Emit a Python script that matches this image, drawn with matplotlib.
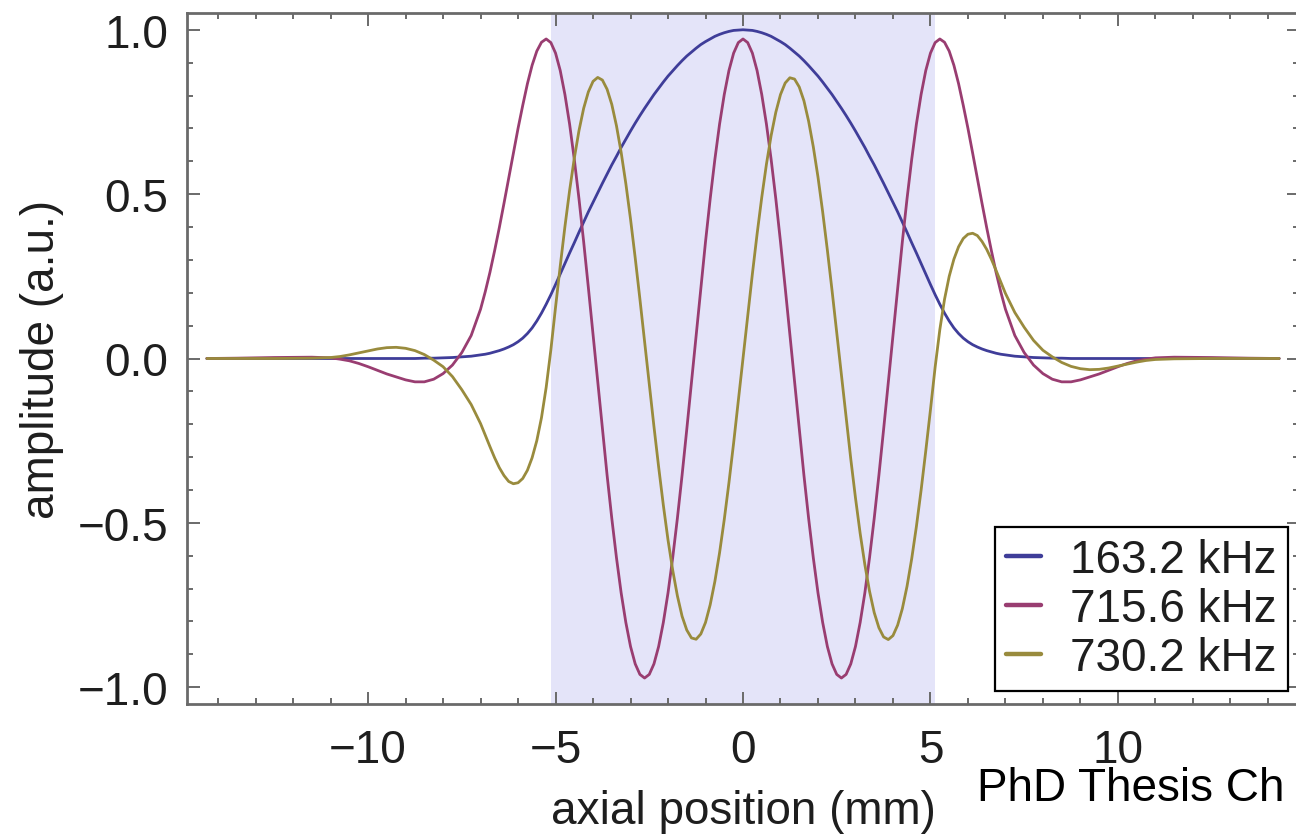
import matplotlib
matplotlib.use("Agg")
import matplotlib.pyplot as plt
from matplotlib.ticker import MultipleLocator

plt.rcParams['font.family'] = ['Liberation Sans', 'DejaVu Sans']

# Axial sample positions (mm)
x_mm = [
    -14.3, -13.5, -12.5, -11.5,
    -11.0, -10.75, -10.5, -10.25, -10.0, -9.75, -9.5, -9.25,
    -9.0, -8.75, -8.5, -8.25, -8.0, -7.75, -7.5, -7.25,
    -7.0, -6.875, -6.75, -6.625, -6.5, -6.375, -6.25, -6.125,
    -6.0, -5.875, -5.75, -5.625, -5.5, -5.375, -5.25, -5.125,
    -5.0, -4.875, -4.75, -4.625, -4.5, -4.375, -4.25, -4.125,
    -4.0, -3.875, -3.75, -3.625, -3.5, -3.375, -3.25, -3.125,
    -3.0, -2.875, -2.75, -2.625, -2.5, -2.375, -2.25, -2.125,
    -2.0, -1.875, -1.75, -1.625, -1.5, -1.375, -1.25, -1.125,
    -1.0, -0.875, -0.75, -0.625, -0.5, -0.375, -0.25, -0.125,
    0.0,
    0.125, 0.25, 0.375, 0.5, 0.625, 0.75, 0.875, 1.0,
    1.125, 1.25, 1.375, 1.5, 1.625, 1.75, 1.875, 2.0,
    2.125, 2.25, 2.375, 2.5, 2.625, 2.75, 2.875, 3.0,
    3.125, 3.25, 3.375, 3.5, 3.625, 3.75, 3.875, 4.0,
    4.125, 4.25, 4.375, 4.5, 4.625, 4.75, 4.875, 5.0,
    5.125, 5.25, 5.375, 5.5, 5.625, 5.75, 5.875, 6.0,
    6.125, 6.25, 6.375, 6.5, 6.625, 6.75, 6.875, 7.0,
    7.25, 7.5, 7.75, 8.0, 8.25, 8.5, 8.75, 9.0,
    9.25, 9.5, 9.75, 10.0, 10.25, 10.5, 10.75, 11.0,
    11.5, 12.5, 13.5, 14.3,
]

# Mode amplitude at 163.2 kHz
amp_163 = [
    0.0, 0.0, 0.0, 0.0,
    0.0, 0.0, 0.0, 0.0, 0.0, 0.0, 0.0, 0.0,
    0.0, 0.0, 0.001, 0.001, 0.002, 0.003, 0.005, 0.007,
    0.011, 0.013, 0.016, 0.020, 0.024, 0.029, 0.035, 0.042,
    0.051, 0.062, 0.076, 0.093, 0.114, 0.138, 0.165, 0.194,
    0.225, 0.257, 0.289, 0.321, 0.352, 0.384, 0.415, 0.446,
    0.475, 0.504, 0.533, 0.561, 0.589, 0.615, 0.642, 0.667,
    0.692, 0.716, 0.739, 0.761, 0.782, 0.803, 0.822, 0.841,
    0.859, 0.875, 0.891, 0.906, 0.920, 0.932, 0.944, 0.955,
    0.964, 0.972, 0.980, 0.986, 0.991, 0.995, 0.998, 0.999,
    1.000,
    0.999, 0.998, 0.995, 0.991, 0.986, 0.980, 0.972, 0.964,
    0.955, 0.944, 0.932, 0.920, 0.906, 0.891, 0.875, 0.859,
    0.841, 0.822, 0.803, 0.782, 0.761, 0.739, 0.716, 0.692,
    0.667, 0.642, 0.615, 0.589, 0.561, 0.533, 0.504, 0.475,
    0.446, 0.415, 0.384, 0.352, 0.321, 0.289, 0.257, 0.225,
    0.194, 0.165, 0.138, 0.114, 0.093, 0.076, 0.062, 0.051,
    0.042, 0.035, 0.029, 0.024, 0.020, 0.016, 0.013, 0.011,
    0.007, 0.005, 0.003, 0.002, 0.001, 0.001, 0.0, 0.0,
    0.0, 0.0, 0.0, 0.0, 0.0, 0.0, 0.0, 0.0,
    0.0, 0.0, 0.0, 0.0,
]

# Mode amplitude at 715.6 kHz
amp_715 = [
    0.0, 0.001, 0.003, 0.004,
    0.002, -0.002, -0.007, -0.015, -0.025, -0.036, -0.047, -0.056,
    -0.065, -0.071, -0.071, -0.063, -0.046, -0.020, 0.018, 0.070,
    0.150, 0.203, 0.262, 0.328, 0.398, 0.472, 0.548, 0.625,
    0.700, 0.770, 0.836, 0.892, 0.935, 0.962, 0.972, 0.961,
    0.929, 0.876, 0.803, 0.713, 0.606, 0.486, 0.355, 0.216,
    0.073, -0.073, -0.216, -0.355, -0.486, -0.606, -0.713, -0.803,
    -0.876, -0.929, -0.961, -0.972, -0.961, -0.929, -0.876, -0.803,
    -0.713, -0.606, -0.486, -0.355, -0.216, -0.073, 0.073, 0.216,
    0.355, 0.486, 0.606, 0.713, 0.803, 0.876, 0.929, 0.961,
    0.972,
    0.961, 0.929, 0.876, 0.803, 0.713, 0.606, 0.486, 0.355,
    0.216, 0.073, -0.073, -0.216, -0.355, -0.486, -0.606, -0.713,
    -0.803, -0.876, -0.929, -0.961, -0.972, -0.961, -0.929, -0.876,
    -0.803, -0.713, -0.606, -0.486, -0.355, -0.216, -0.073, 0.073,
    0.216, 0.355, 0.486, 0.606, 0.713, 0.803, 0.876, 0.929,
    0.961, 0.972, 0.962, 0.935, 0.892, 0.836, 0.770, 0.700,
    0.625, 0.548, 0.472, 0.398, 0.328, 0.262, 0.203, 0.150,
    0.070, 0.018, -0.020, -0.046, -0.063, -0.071, -0.071, -0.065,
    -0.056, -0.047, -0.036, -0.025, -0.015, -0.007, -0.002, 0.002,
    0.004, 0.003, 0.001, 0.0,
]

# Mode amplitude at 730.2 kHz
amp_730 = [
    0.0, 0.0, 0.0, 0.001,
    0.003, 0.006, 0.011, 0.017, 0.023, 0.029, 0.033, 0.034,
    0.031, 0.024, 0.012, -0.005, -0.025, -0.055, -0.095, -0.140,
    -0.198, -0.233, -0.268, -0.302, -0.332, -0.356, -0.374, -0.381,
    -0.378, -0.365, -0.340, -0.302, -0.250, -0.180, -0.088, 0.026,
    0.156, 0.281, 0.401, 0.511, 0.609, 0.693, 0.761, 0.811,
    0.843, 0.855, 0.847, 0.819, 0.773, 0.708, 0.627, 0.532,
    0.424, 0.306, 0.181, 0.052, -0.078, -0.207, -0.330, -0.446,
    -0.552, -0.644, -0.722, -0.784, -0.826, -0.850, -0.854, -0.838,
    -0.803, -0.749, -0.678, -0.591, -0.490, -0.378, -0.257, -0.130,
    0.0,
    0.130, 0.257, 0.378, 0.490, 0.591, 0.678, 0.749, 0.803,
    0.838, 0.854, 0.850, 0.826, 0.784, 0.722, 0.644, 0.552,
    0.446, 0.330, 0.207, 0.078, -0.052, -0.181, -0.306, -0.424,
    -0.532, -0.627, -0.708, -0.773, -0.819, -0.847, -0.855, -0.843,
    -0.811, -0.761, -0.693, -0.609, -0.511, -0.401, -0.281, -0.156,
    -0.026, 0.088, 0.180, 0.250, 0.302, 0.340, 0.365, 0.378,
    0.381, 0.374, 0.356, 0.332, 0.302, 0.268, 0.233, 0.198,
    0.140, 0.095, 0.055, 0.025, 0.005, -0.012, -0.024, -0.031,
    -0.034, -0.033, -0.029, -0.023, -0.017, -0.011, -0.006, -0.003,
    -0.001, 0.0, 0.0, 0.0,
]

series_labels = ['163.2 kHz', '715.6 kHz', '730.2 kHz']
series_colors = [(0.247, 0.240, 0.600), (0.600, 0.240, 0.443), (0.600, 0.547, 0.240)]
waist_span = (-5.13, 5.13)
x_major = [-10, -5, 0, 5, 10]
x_major_labels = ['\u221210', '\u22125', '0', '5', '10']
y_major = [-1.0, -0.5, 0.0, 0.5, 1.0]
y_major_labels = ['\u22121.0', '\u22120.5', '0.0', '0.5', '1.0']

W, H = 1296, 837
fig = plt.figure(figsize=(W / 100, H / 100), dpi=100)
ax = fig.add_axes([187 / W, 132 / H, 1112 / W, 691 / H])

ax.axvspan(waist_span[0], waist_span[1], color='#e4e4f9', lw=0, zorder=0)

for amp, lab, col in zip([amp_163, amp_715, amp_730], series_labels, series_colors):
    ax.plot(x_mm, amp, color=col, lw=2.0, label=lab,
            solid_joinstyle='round', solid_capstyle='round', zorder=2)

ax.set_xlim(-14.83, 14.83)
ax.set_ylim(-1.051, 1.051)

ax.set_xticks(x_major)
ax.set_xticklabels(x_major_labels)
ax.xaxis.set_minor_locator(MultipleLocator(1))
ax.set_yticks(y_major)
ax.set_yticklabels(y_major_labels)
ax.yaxis.set_minor_locator(MultipleLocator(0.1))

frame_col = '#6a6a6a'
ax.tick_params(which='both', direction='in', top=True, right=True,
               color=frame_col, width=1.4, labelcolor='#1e1e1e')
ax.tick_params(which='major', length=9, labelsize=33)
ax.tick_params(axis='x', which='major', pad=17.5)
ax.tick_params(axis='y', which='major', pad=13.5)
ax.tick_params(which='minor', length=4.5)
for sp in ax.spines.values():
    sp.set_color(frame_col)
    sp.set_linewidth(2.0)

ax.set_xlabel('axial position (mm)', fontsize=33, color='#1e1e1e', va='center')
ax.xaxis.set_label_coords(0.5, (705 - 812) / 691)
ax.set_ylabel('amplitude (a.u.)', fontsize=33, color='#1e1e1e', va='center')
ax.yaxis.set_label_coords((42 - 187) / 1112, 0.5)

leg = ax.legend(loc='lower right', bbox_to_anchor=(0.990, 0.0188),
                bbox_transform=ax.transAxes, borderaxespad=0, fontsize=33,
                frameon=True, fancybox=False, edgecolor='black', framealpha=1,
                handlelength=0.76, handletextpad=0.63, borderpad=0.25,
                labelspacing=0.1)
leg.get_frame().set_linewidth(1.6)
for ln in leg.get_lines():
    ln.set_linewidth(3.2)
for t in leg.get_texts():
    t.set_color('#1e1e1e')

fig.text(977 / W, 1 - 801 / H, 'PhD Thesis Ch', fontsize=33, color='black',
         ha='left', va='baseline')

fig.savefig('out.png', dpi=100)
